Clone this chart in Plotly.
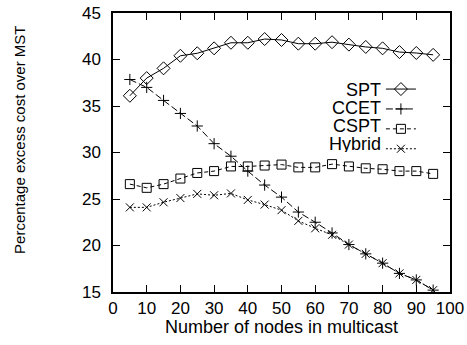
import plotly.graph_objects as go

nodes = [5, 10, 15, 20, 25, 30, 35, 40, 45, 50, 55, 60, 65, 70, 75, 80, 85, 90, 95]

spt = [36.1, 38.0, 39.05, 40.4, 40.67, 41.2, 41.8, 41.8, 42.2, 42.1, 41.7, 41.7, 41.86,
       41.6, 41.35, 41.2, 40.8, 40.7, 40.5]
ccet = [37.85, 37.0, 35.6, 34.2, 32.85, 30.95, 29.6, 28.0, 26.5, 25.2, 23.6, 22.5, 21.35,
        20.1, 19.1, 18.1, 17.0, 16.3, 15.2]
cspt = [26.6, 26.2, 26.6, 27.2, 27.8, 28.0, 28.5, 28.5, 28.6, 28.7, 28.4, 28.4, 28.75,
        28.5, 28.3, 28.2, 28.0, 28.0, 27.7]
hybrid = [24.1, 24.1, 24.65, 25.1, 25.55, 25.4, 25.6, 24.9, 24.4, 23.8, 22.65, 21.85, 21.15,
          20.1, 19.1, 18.1, 17.0, 16.3, 15.2]

names = ["SPT", "CCET", "CSPT", "Hybrid"]
series = [spt, ccet, cspt, hybrid]
dashes = ["solid", "7px,3px", "4px,3px", "2px,2px"]
symbols = ["diamond-open", "cross-thin-open", "square-open", "x-thin-open"]
sizes = [10, 8, 9, 8]

FONT = "Liberation Sans, Arial, sans-serif"

fig = go.Figure()

for name, ys, dash, sym, sz in zip(names, series, dashes, symbols, sizes):
    fig.add_trace(go.Scatter(
        x=nodes,
        y=ys,
        mode="lines+markers",
        name=" ",
        line=dict(color="black", width=1, dash=dash),
        marker=dict(symbol=sym, size=sz, color="black", line=dict(color="black", width=1)),
        hovertemplate=name + "<br>%{x}: %{y:.2f}<extra></extra>",
    ))

# legend labels sit to the left of their samples, gnuplot style
for i, name in enumerate(names):
    fig.add_annotation(
        xref="paper", yref="paper",
        x=0.80, y=0.726 - i * 0.0645,
        text=name, showarrow=False,
        height=17,
        xanchor="right", yanchor="middle",
        font=dict(family=FONT, size=18, color="black"),
    )

# axis titles placed by hand to match the original's offsets
fig.add_annotation(
    xref="paper", yref="paper",
    x=0.501, y=-0.127,
    text="Number of nodes in multicast", showarrow=False,
    xanchor="center", yanchor="middle",
    font=dict(family=FONT, size=18, color="black"),
)
fig.add_annotation(
    xref="paper", yref="paper",
    x=-0.276, y=0.545,
    text="Percentage excess cost over MST", showarrow=False,
    textangle=-90,
    xanchor="center", yanchor="middle",
    font=dict(family=FONT, size=15, color="black"),
)

fig.update_layout(
    width=467,
    height=345,
    paper_bgcolor="white",
    plot_bgcolor="white",
    showlegend=True,
    legend=dict(
        x=0.795, y=0.781, xanchor="left", yanchor="top",
        bgcolor="rgba(0,0,0,0)",
        font=dict(family=FONT, size=13),
        tracegroupgap=0,
        itemwidth=30,
    ),
    margin=dict(l=113, r=17, t=13, b=53),
    font=dict(family=FONT, color="black"),
    xaxis=dict(
        range=[0, 100],
        tickvals=list(range(0, 101, 10)),
        ticks="inside",
        ticklen=7,
        tickcolor="black",
        mirror="ticks",
        showline=True,
        linecolor="black",
        linewidth=1.5,
        showgrid=False,
        zeroline=False,
        automargin=False,
        tickfont=dict(size=17),
    ),
    yaxis=dict(
        range=[15, 45],
        tickvals=list(range(15, 46, 5)),
        ticks="inside",
        ticklen=7,
        tickcolor="black",
        mirror="ticks",
        showline=True,
        linecolor="black",
        linewidth=1.5,
        showgrid=False,
        zeroline=False,
        automargin=False,
        ticklabelstandoff=7,
        tickfont=dict(size=17),
    ),
)

# drop the default 8px page margin so the figure fills the window
fig.write_html(
    "out.html",
    config={"displayModeBar": False},
    post_script="document.body.style.margin = '0';",
)
